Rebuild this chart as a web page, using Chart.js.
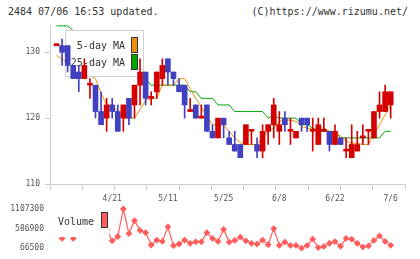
<!DOCTYPE html>
<html>
<head>
<meta charset="utf-8">
<script src="https://cdn.jsdelivr.net/npm/chart.js@4.4.0/dist/chart.umd.min.js"></script>
<style>
  body { margin: 0; background: #fff; }
  #wrap { position: relative; width: 420px; height: 259px; overflow: hidden; }
  .hdr { position: absolute; top: 6px; font: 10px "DejaVu Sans Mono", monospace; color: #333; white-space: pre; }
  #priceChart { position: absolute; left: 0; top: 0; }
  #volChart { position: absolute; left: 0; top: 195px; }
</style>
</head>
<body>
<div id="wrap">
  <div class="hdr" style="left:8px">2484 07/06 16:53 updated.</div>
  <div class="hdr" style="right:12px">(C)https://www.rizumu.net/</div>
  <canvas id="priceChart" width="420" height="205"></canvas>
  <canvas id="volChart" width="420" height="64"></canvas>
</div>
<script>
// trading days (categories)
const dates = ['4/7','4/8','4/9','4/10','4/13','4/14','4/15','4/16','4/17','4/20',
  '4/21','4/22','4/23','4/24','4/27','4/28','4/30','5/1','5/7','5/8',
  '5/11','5/12','5/13','5/14','5/15','5/18','5/19','5/20','5/21','5/22',
  '5/25','5/26','5/27','5/28','5/29','6/1','6/2','6/3','6/4','6/5',
  '6/8','6/9','6/10','6/11','6/12','6/15','6/16','6/17','6/18','6/19',
  '6/22','6/23','6/24','6/25','6/26','6/29','6/30','7/1','7/2','7/3','7/6'];

const open  = [131,131,131,128,127,126,125,125,121,120, 122,121,120,123,122,125,127,123,124,126,
               129,127,125,125,121,122,120,122,118,117, 120,117,116,116,116,118,116,115,118,119,
               118,120,118,117,120,120,118,116,118,118, 116,117,115,114,115,117,118,117,121,121,122];
const high  = [131,132,131,128,128,129,126,125,124,123, 123,122,122,123,125,129,127,124,127,129,
               129,127,126,125,123,122,122,122,119,120, 120,118,118,116,119,118,117,119,119,123,
               121,121,120,118,120,120,120,120,120,118, 119,117,117,119,118,119,118,121,124,125,124];
const low   = [131,128,127,126,124,126,123,120,119,118, 120,118,118,119,120,122,122,122,123,125,
               125,125,124,120,121,120,120,118,117,117, 117,116,115,114,116,116,114,114,116,117,
               116,118,116,117,118,118,115,116,118,115, 116,116,114,114,115,116,116,117,120,121,120];
const close = [131,130,128,126,126,128,125,121,119,122, 121,118,122,120,125,127,123,123,127,128,
               127,126,124,122,121,120,120,118,117,120, 119,116,115,114,119,118,115,118,119,122,
               119,119,118,118,119,119,118,119,118,116, 118,116,115,116,116,117,118,121,122,124,124];

const ma5  = [129.5,129,128.4,127.8,127.2,126.8,126.5,126,123.8,122, 122,121,120,120,120,121.3,122.7,123,123,125,
              125,125,126,126,124.5,123,121.7,120.3,119,119, 119,118,117,116.3,116,116,116,117,118,118.5,
              119.5,119.7,119.7,119.5,118.7,118.5,118.3,118.5,118.5,118, 117.8,117.3,116.5,116.2,116.2,116,116,117.5,119,120.5,122];
const ma25 = [134,134,134,133.3,132.8,132.2,131.6,131,130.4,129.8, 129.2,128.6,128,127.4,126.8,126.2,126,125,125,125,
              125,125,125,125,124,124,123,123,123,122, 122,122,121,121,121,121,121,121,120,120.4,
              120,120,120,120,119,119,118.5,118,118,118, 118,117,117,117,117,117,117,117,117,118,118];

const volume = [550000,325000,700000,325000,500000,460000,600000,550000,480000,550000,
                263000,376500,1107300,454000,797500,539000,480000,152000,281000,247000,
                635000,134000,178000,281000,196000,237000,237000,480000,325000,247000,
                565000,229000,273000,358000,263000,196000,178000,281000,159000,585000,
                139000,229000,139000,139000,66500,139000,307000,82000,113000,198000,
                242000,118000,327000,307000,196000,100000,126000,273000,392000,247000,144000];

const priceTicks = [110, 120, 130];
const volTicks = [66500, 586900, 1107300];

const RED = '#d40000', BLUE = '#4040c0', ORANGE = '#f0900a', GREEN = '#00a800', VOLC = '#ff5c5c';
const xMin = -1.17, xMax = 62.57;
const mono = '"DejaVu Sans Mono", monospace';

const candleColor = close.map((c, i) => c >= open[i] ? RED : BLUE);

// legend box sits above the MA lines but under the candles
const priceLegend = {
  id: 'priceLegend',
  beforeDatasetDraw(chart, args) {
    if (args.index !== 2) return;
    const c = chart.ctx;
    c.save();
    c.fillStyle = '#fff';
    c.strokeStyle = '#d0d0d0';
    c.fillRect(65.5, 30.5, 78, 46);
    c.strokeRect(65.5, 30.5, 78, 46);
    c.font = '10px ' + mono;
    c.fillStyle = '#333';
    c.textAlign = 'right';
    c.textBaseline = 'middle';
    c.fillText('5-day MA', 125, 46);
    c.fillText('25-day MA', 125, 63);
    c.strokeStyle = '#333';
    c.fillStyle = ORANGE;
    c.fillRect(131.5, 37.5, 6, 15); c.strokeRect(131.5, 37.5, 6, 15);
    c.fillStyle = GREEN;
    c.fillRect(131.5, 54.5, 6, 15); c.strokeRect(131.5, 54.5, 6, 15);
    c.restore();
  }
};

new Chart(document.getElementById('priceChart'), {
  type: 'bar',
  data: {
    datasets: [
      { type: 'line', label: '25-day MA', data: ma25.map((v, i) => ({x: i, y: v})), borderColor: GREEN,
        borderWidth: 1, pointRadius: 0, order: 3 },
      { type: 'line', label: '5-day MA', data: ma5.map((v, i) => ({x: i, y: v})), borderColor: ORANGE,
        borderWidth: 1, pointRadius: 0, order: 2 },
      { label: 'wick', data: low.map((v, i) => ({x: i, y: [v, high[i]]})), backgroundColor: candleColor,
        barThickness: 1, grouped: false, order: 1 },
      { label: 'body', data: open.map((v, i) => ({x: i, y: [v, close[i]]})), backgroundColor: candleColor,
        barThickness: 5, minBarLength: 2, grouped: false, order: 0 }
    ]
  },
  options: {
    responsive: false,
    animation: false,
    layout: { padding: { top: 25, right: 15, left: 0, bottom: 0 } },
    plugins: { legend: { display: false }, tooltip: { enabled: false } },
    scales: {
      x: {
        type: 'linear', min: xMin, max: xMax, offset: false,
        afterBuildTicks: s => { s.ticks = Array.from({length: 12}, (_, k) => ({value: xMin + k * (xMax - xMin) / 11})); },
        ticks: { display: false },
        grid: { drawOnChartArea: false, tickLength: 6, color: '#cccccc', offset: false },
        border: { color: '#cccccc' },
        afterFit: s => { s.height = 6; }
      },
      xd: {
        type: 'linear', position: 'bottom', min: xMin, max: xMax, offset: false,
        afterBuildTicks: s => { s.ticks = dates.map((d, i) => i).filter(i => i > 0 && i % 10 === 0).map(i => ({value: i})); },
        ticks: { callback: v => dates[v], autoSkip: false, maxRotation: 0, padding: 4, color: '#555', font: { family: mono, size: 8 } },
        grid: { display: false, drawTicks: false },
        border: { display: false },
        afterFit: s => { s.height = 15; }
      },
      y: {
        min: 110, max: 134.14,
        afterBuildTicks: s => { s.ticks = priceTicks.map(v => ({value: v})); },
        ticks: { padding: 5, color: '#555', font: { family: mono, size: 8 } },
        grid: { drawOnChartArea: false, tickLength: 5, color: '#cccccc' },
        border: { color: '#cccccc' },
        afterFit: s => { s.width = 50; }
      }
    }
  },
  plugins: [priceLegend]
});

const volLegend = {
  id: 'volLegend',
  afterDatasetsDraw(chart) {
    const c = chart.ctx;
    c.save();
    c.fillStyle = '#fff';
    c.fillRect(50, 8, 59, 34);
    c.font = '10px ' + mono;
    c.fillStyle = '#333';
    c.textBaseline = 'middle';
    c.fillText('Volume', 58, 27);
    c.fillStyle = VOLC;
    c.strokeStyle = '#333';
    c.fillRect(101.5, 17.5, 6, 15); c.strokeRect(101.5, 17.5, 6, 15);
    c.restore();
  }
};

new Chart(document.getElementById('volChart'), {
  type: 'line',
  data: {
    datasets: [{
      label: 'Volume', data: volume.map((v, i) => ({x: i, y: v})),
      borderColor: VOLC, backgroundColor: VOLC, borderWidth: 1.2,
      pointStyle: 'rectRot', pointRadius: 3.4, pointBorderWidth: 0, clip: false
    }]
  },
  options: {
    responsive: false,
    animation: false,
    layout: { padding: { top: 14, right: 15, left: 0, bottom: 9.7 } },
    plugins: { legend: { display: false }, tooltip: { enabled: false } },
    scales: {
      x: { type: 'linear', min: xMin, max: xMax, display: false },
      y: {
        min: 66500, max: 1107300,
        afterBuildTicks: s => { s.ticks = volTicks.map(v => ({value: v})); },
        ticks: { callback: v => String(v), padding: 6, color: '#555', font: { family: mono, size: 8 } },
        grid: { display: false, drawTicks: false },
        border: { display: false },
        afterFit: s => { s.width = 50; }
      }
    }
  },
  plugins: [volLegend]
});
</script>
</body>
</html>
